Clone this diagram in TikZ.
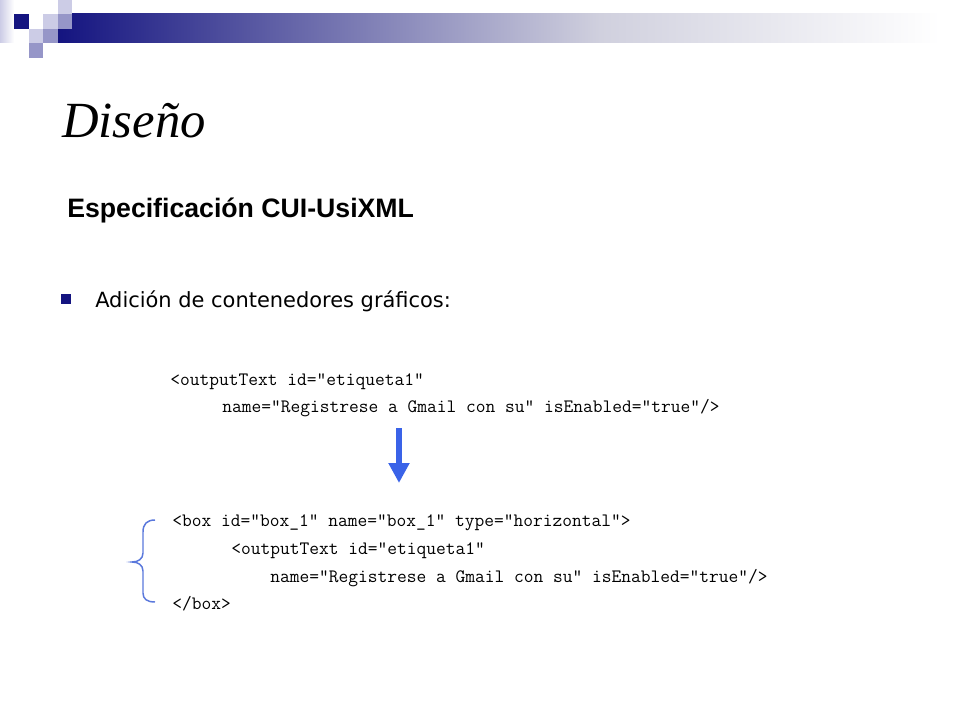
\documentclass[tikz,border=0pt]{standalone}
\usepackage{fontspec}
\usepackage{tikz}
\usetikzlibrary{arrows.meta}
\setmainfont{Liberation Serif}
\newfontfamily\headfont{Liberation Sans}
\newfontfamily\bodyfont{DejaVu Sans}
\definecolor{navy}{RGB}{20,20,128}
\definecolor{lavlight}{RGB}{204,204,230}
\definecolor{lavmid}{RGB}{150,150,200}
\definecolor{barmid}{RGB}{208,208,222}
\definecolor{arrowblue}{RGB}{58,99,232}
\definecolor{braceblue}{RGB}{90,120,220}

\begin{document}
\begin{tikzpicture}[x=0.75pt,y=-0.75pt,
		codeline/.style={anchor=base west, inner sep=0pt, font=\ttfamily\fontsize{14.2pt}{16pt}\selectfont},
		tile/.style={fill=#1, draw=none}]
			\useasboundingbox[fill=white] (0,0) rectangle (960,720);
			\shade[left color=lavlight, right color=white] (0,0) rectangle (14,43);
			\shade[left color=navy, right color=barmid] (58,14) rectangle (600,43);
			\shade[left color=barmid, right color=white] (600,14) rectangle (940,43);
			\fill[tile=navy] (14,14) rectangle (29,29);
			\fill[tile=lavlight] (58,0) rectangle (72,14);
			\fill[tile=lavlight] (43,14) rectangle (58,29);
			\fill[tile=lavmid] (58,14) rectangle (72,29);
			\fill[tile=lavlight] (29,29) rectangle (43,43);
			\fill[tile=lavmid] (43,29) rectangle (58,43);
			\fill[tile=lavmid] (29,43) rectangle (43,58);
			\node[anchor=base west, inner sep=0pt, font=\itshape\fontsize{38pt}{44pt}\selectfont] (titulo) at (62,138) {Diseño};
			\node[anchor=base west, inner sep=0pt, font=\headfont\bfseries\fontsize{20pt}{24pt}\selectfont] (subtitulo) at (67,218) {Especificación CUI-UsiXML};
			\fill[navy] (61,294) rectangle (71,304);
			\node[anchor=base west, inner sep=0pt, font=\bodyfont\fontsize{15.7pt}{19pt}\selectfont] (bullet) at (95,307) {Adición de contenedores gráficos:};
			\node[codeline] (origA) at (170,385) {<outputText id="etiqueta1"};
			\node[codeline] (origB) at (222,412) {name="Registrese a Gmail con su" isEnabled="true"/>};
			\node[codeline] (boxA) at (172,526) {<box id="box\_1" name="box\_1" type="horizontal">};
			\node[codeline] (boxB) at (231,554) {<outputText id="etiqueta1"};
			\node[codeline] (boxC) at (270,582) {name="Registrese a Gmail con su" isEnabled="true"/>};
			\node[codeline] (boxD) at (172,609) {</box>};
			\coordinate (arrtop) at (399,428);
			\coordinate (arrbot) at (399,483);
			\draw[arrowblue, line width=5pt, -{Triangle[width=15pt, length=15pt]}] (arrtop) -- (arrbot);
			\draw[braceblue, line width=1.1pt] (155,520) .. controls (147,520) and (143,524) .. (143,532) -- (143,553) .. controls (143,559) and (138,562) .. (132,562) .. controls (138,562) and (143,565) .. (143,571) -- (143,593) .. controls (143,599) and (147,602) .. (155,602);
		\end{tikzpicture}
\end{document}
